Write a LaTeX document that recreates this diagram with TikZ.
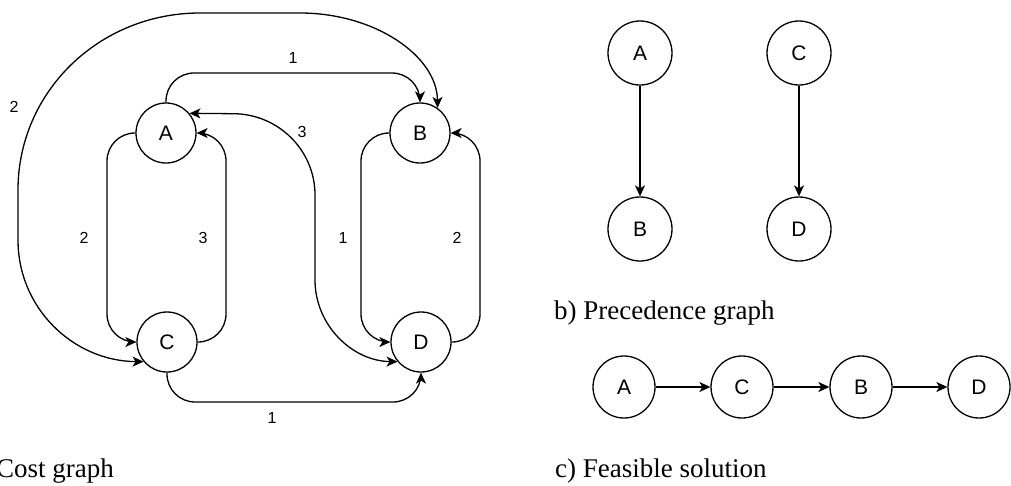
\documentclass[tikz,border=0pt]{standalone}
\usepackage{fontspec}
\setmainfont{Liberation Serif}
\newfontfamily\arialf{Liberation Sans}
\usetikzlibrary{arrows.meta}
\tikzset{
  vtx/.style={circle, draw, line width=1.3pt, inner sep=0pt, font=\arialf\fontsize{21}{21}\selectfont},
  vbig/.style={vtx, minimum size=60pt},
  vmid/.style={vtx, minimum size=64pt},
  vsm/.style={vtx, minimum size=62pt},
  tip/.tip={Stealth[length=11pt,width=10pt,inset=3pt]},
  edge/.style={line width=1.3pt, -tip},
  bedge/.style={line width=1.3pt, tip-tip},
  cost/.style={font=\arialf\fontsize{16}{16}\selectfont, inner sep=0pt},
  captext/.style={font=\fontsize{27}{27}\selectfont, inner sep=0pt, anchor=base west}
}
\begin{document}
\begin{tikzpicture}[x=1pt,y=-1pt]
\path[use as bounding box] (0,0) rectangle (1011,485);
% cost graph
\node[vbig] (A) at (166,133) {A};
\node[vbig] (B) at (420,133) {B};
\node[vbig] (C) at (167,342) {C};
\node[vbig] (D) at (421,342) {D};
\draw[edge, rounded corners=28pt] (A.north) |- (300,73) -| (B.north);
\draw[bedge] (B.55) .. controls (437,56) and (375,13) .. (300,13) -- (200,13)
   .. controls (99,13) and (18,92) .. (18,190) -- (18,240)
   .. controls (18,308) and (73,361) .. (C.220);
\draw[edge, rounded corners=28pt] (A.west) -| (107,240) |- (C.west);
\draw[edge, rounded corners=28pt] (C.east) -| (226,240) |- (A.east);
\draw[edge, rounded corners=28pt] (B.west) -| (361,240) |- (D.west);
\draw[edge, rounded corners=28pt] (D.east) -| (480,240) |- (B.east);
\draw[edge, rounded corners=28pt] (C.south) |- (300,402) -| (D.south);
\draw[bedge] (A.40) -- (233,113.7) .. controls (278,113.7) and (315,150) .. (315,195)
   -- (315,280) .. controls (315,325) and (352,361) .. (D.220);
\node[cost] (l1) at (293,58) {1};
\node[cost] (l2) at (14,107) {2};
\node[cost] (l3) at (302,132) {3};
\node[cost] (l4) at (84,238) {2};
\node[cost] (l5) at (203,238) {3};
\node[cost] (l6) at (343,238) {1};
\node[cost] (l7) at (457,238) {2};
\node[cost] (l8) at (272,418) {1};
\node[captext] (ta) at (-4,477) {Cost graph};
% precedence graph
\node[vmid] (pA) at (640,53) {A};
\node[vmid] (pB) at (640,229) {B};
\node[vmid] (pC) at (799,53) {C};
\node[vmid] (pD) at (799,229) {D};
\draw[edge] (pA) -- (pB);
\draw[edge] (pC) -- (pD);
\node[captext] (tb) at (554,319) {b) Precedence graph};
% feasible solution
\node[vsm] (sA) at (624,387) {A};
\node[vsm] (sC) at (742,387) {C};
\node[vsm] (sB) at (861,387) {B};
\node[vsm] (sD) at (979,387) {D};
\draw[edge] (sA) -- (sC);
\draw[edge] (sC) -- (sB);
\draw[edge] (sB) -- (sD);
\node[captext] (tc) at (555,477) {c) Feasible solution};
\end{tikzpicture}
\end{document}
